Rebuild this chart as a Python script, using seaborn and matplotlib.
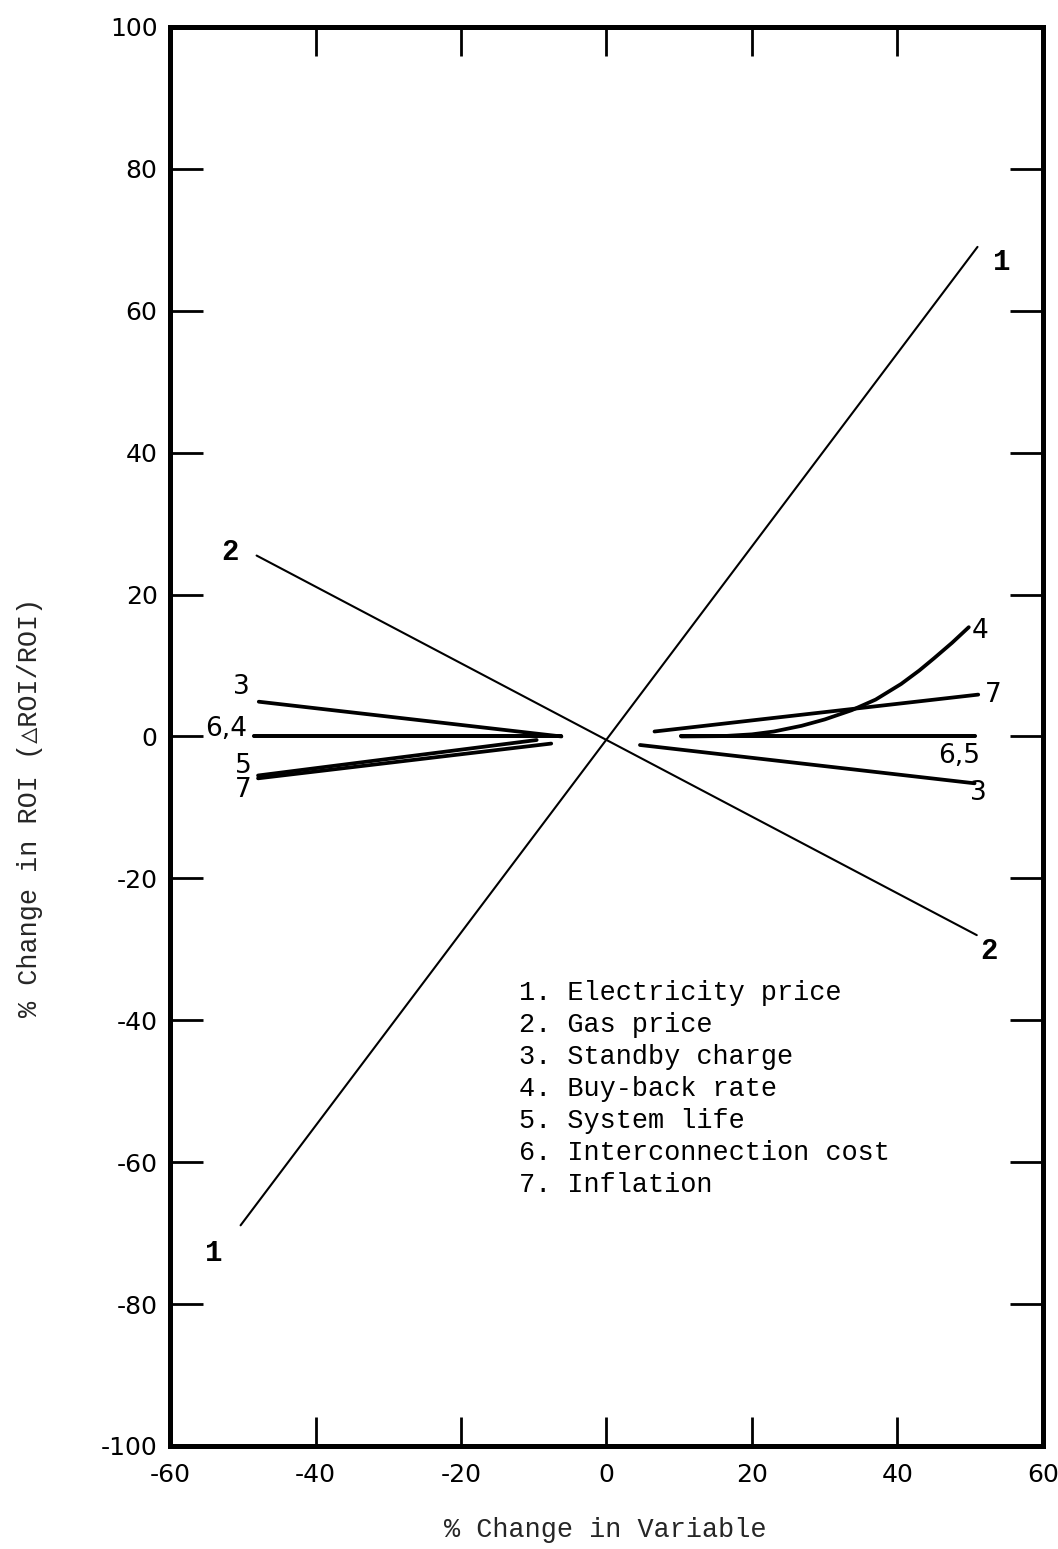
import matplotlib
matplotlib.use("Agg")
import matplotlib.pyplot as plt
import numpy as np
import pandas as pd
import seaborn as sns

# ---------------- data ----------------
variables = ["Electricity price", "Gas price", "Standby charge", "Buy-back rate",
             "System life", "Interconnection cost", "Inflation"]

elec_x = [-50.3, 51.0]
elec_y = [-68.9, 69.0]

gas_x = [-48.1, 50.9]
gas_y = [25.5, -28.0]

standby_left_x = [-47.8, -6.2]
standby_left_y = [4.9, 0.0]
standby_right_x = [4.6, 50.6]
standby_right_y = [-1.2, -6.6]

buyback_left_x = [-48.4, -6.2]
buyback_left_y = [0.0, 0.0]
buyback_right_x = [10.3, 16.0, 20.0, 23.0, 26.8, 30.0, 33.7, 37.0, 40.5, 43.0, 45.0, 47.5, 49.8]
buyback_right_y = [0.0, 0.05, 0.3, 0.7, 1.5, 2.4, 3.7, 5.2, 7.4, 9.3, 11.0, 13.2, 15.4]

life_left_x = [-47.9, -9.6]
life_left_y = [-5.5, -0.5]
life_right_x = [10.3, 50.6]
life_right_y = [0.0, 0.0]

interconn_left_x = [-48.4, -6.2]
interconn_left_y = [0.0, 0.0]
interconn_right_x = [10.3, 50.6]
interconn_right_y = [0.0, 0.0]

inflation_left_x = [-47.9, -7.6]
inflation_left_y = [-5.9, -1.0]
inflation_right_x = [6.6, 51.1]
inflation_right_y = [0.7, 5.9]

x_ticks = [-60, -40, -20, 0, 20, 40, 60]
y_ticks = [-100, -80, -60, -40, -20, 0, 20, 40, 60, 80, 100]

# curve labels: (text, x, y)
curve_labels = [("1", 54.3, 66.9), ("1", -54.0, -72.8),
                ("2", -51.8, 26.0), ("2", 52.6, -30.3),
                ("3", -50.2, 7.0), ("6,4", -52.3, 1.0),
                ("5", -49.9, -4.2), ("7", -49.9, -7.6),
                ("4", 51.3, 14.9), ("7", 53.2, 5.8),
                ("6,5", 48.5, -2.7), ("3", 51.1, -8.0)]

# ---------------- build long-form table ----------------
rows = []
def add(name, xs, ys, weight):
    for xv, yv in zip(xs, ys):
        rows.append(dict(seg=name, x=xv, y=yv, weight=weight))

add("elec", elec_x, elec_y, "thin")
add("gas", gas_x, gas_y, "thin")
add("standby_l", standby_left_x, standby_left_y, "heavy")
add("standby_r", standby_right_x, standby_right_y, "heavy")
add("buyback_l", buyback_left_x, buyback_left_y, "heavy")
add("buyback_r", buyback_right_x, buyback_right_y, "heavy")
add("life_l", life_left_x, life_left_y, "heavy")
add("life_r", life_right_x, life_right_y, "heavy")
add("interconn_l", interconn_left_x, interconn_left_y, "heavy")
add("interconn_r", interconn_right_x, interconn_right_y, "heavy")
add("inflation_l", inflation_left_x, inflation_left_y, "heavy")
add("inflation_r", inflation_right_x, inflation_right_y, "heavy")
df = pd.DataFrame(rows)

# ---------------- plotting ----------------
sns.set_style("white")
plt.rcParams["font.family"] = ["Liberation Mono", "DejaVu Sans Mono", "DejaVu Sans"]

fig = plt.figure(figsize=(10.58, 15.49), dpi=100)
ax = fig.add_axes([0.1607, 0.0665, 0.8251, 0.9161])

sns.lineplot(data=df[df.weight == "thin"], x="x", y="y", units="seg",
             estimator=None, sort=False, color="black", lw=1.5, ax=ax)
sns.lineplot(data=df[df.weight == "heavy"], x="x", y="y", units="seg",
             estimator=None, sort=False, color="black", lw=2.7, ax=ax)

ax.set_xlim(-60, 60)
ax.set_ylim(-100, 100)
ax.set_xticks(x_ticks)
ax.set_yticks(y_ticks)
ax.set_xticklabels([str(t) for t in x_ticks], fontsize=18, family="DejaVu Sans")
ax.set_yticklabels([str(t) for t in y_ticks], fontsize=18, family="DejaVu Sans")
ax.tick_params(axis="x", direction="in", length=21, width=2, top=True, bottom=True,
               pad=12, colors="black")
ax.tick_params(axis="y", direction="in", length=24, width=2, left=True, right=True,
               pad=9, colors="black")
for s in ax.spines.values():
    s.set_visible(True)
    s.set_linewidth(3.6)
    s.set_color("black")
ax.set_xlabel("")
ax.set_ylabel("")
ax.grid(False)

for txt, xv, yv in curve_labels:
    fam = ["Liberation Mono"] if txt in ("1", "2") else ["DejaVu Sans"]
    weight = "bold" if txt in ("1", "2") else "normal"
    ax.text(xv, yv, txt, ha="center", va="center", fontsize=21 if txt in ("1", "2") else 19,
            family=fam, fontweight=weight, color="black")

# legend block as typed text
for i, name in enumerate(variables):
    ax.text(-12.0, -36.2 - i * 4.5, f"{i + 1}. {name}", ha="left", va="center",
            fontsize=19.4, color="black")

fig.text(605 / 1058, 1 - 1530 / 1549, "% Change in Variable", ha="center", va="center",
         fontsize=19.4)
fig.text(30 / 1058, 1 - 807 / 1549, "% Change in ROI (\u25b3ROI/ROI)", ha="center",
         va="center", rotation=90, fontsize=19.4,
         family=["Liberation Mono", "DejaVu Sans Mono", "DejaVu Sans"])

fig.savefig("out.png", dpi=100)
